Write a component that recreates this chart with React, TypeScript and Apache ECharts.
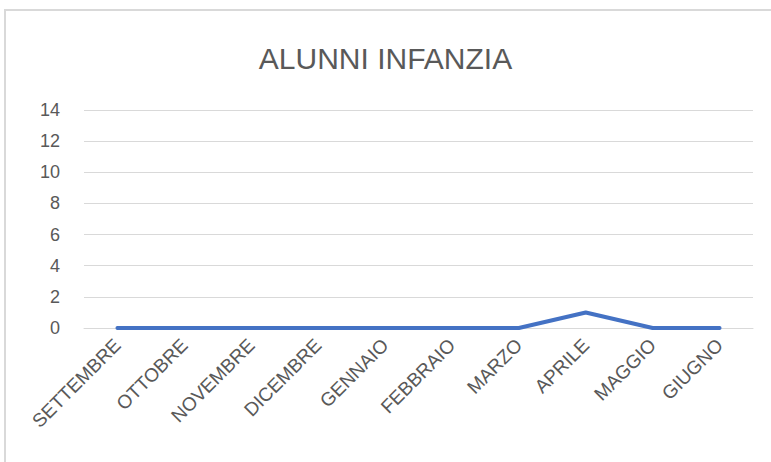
import React, { useEffect, useRef } from "react";
import * as echarts from "echarts";

const title = "ALUNNI INFANZIA";
const months = ["SETTEMBRE", "OTTOBRE", "NOVEMBRE", "DICEMBRE", "GENNAIO", "FEBBRAIO", "MARZO", "APRILE", "MAGGIO", "GIUGNO"];
const alunni = [0, 0, 0, 0, 0, 0, 0, 1, 0, 0];

export default function App() {
  const ref = useRef<HTMLDivElement>(null);
  useEffect(() => {
    if (!ref.current) return;
    const chart = echarts.init(ref.current, null, { renderer: "svg" });
    chart.setOption({
      animation: false,
      backgroundColor: "#ffffff",
      textStyle: { fontFamily: "Liberation Sans" },
      title: {
        text: title,
        left: "center",
        top: 38,
        textStyle: { fontSize: 30, fontWeight: "normal", color: "#595959", fontFamily: "Liberation Sans" },
      },
      graphic: [
        {
          type: "rect",
          shape: { x: 5, y: 10, width: 800, height: 500 },
          style: { fill: "none", stroke: "#d9d9d9", lineWidth: 2 },
          silent: true,
        },
      ],
      grid: { left: 84, right: 18, top: 110, bottom: 134, containLabel: false },
      xAxis: {
        type: "category",
        data: months,
        boundaryGap: true,
        axisLine: { show: true, lineStyle: { color: "#d9d9d9", width: 1 } },
        axisTick: { show: false },
        axisLabel: { rotate: 45, color: "#595959", fontSize: 19, margin: 14, interval: 0 },
      },
      yAxis: {
        type: "value",
        min: 0,
        max: 14,
        interval: 2,
        axisLine: { show: false },
        axisTick: { show: false },
        axisLabel: { color: "#595959", fontSize: 18, margin: 24 },
        splitLine: { lineStyle: { color: "#d9d9d9", width: 1 } },
      },
      series: [
        {
          type: "line",
          data: alunni,
          showSymbol: false,
          symbol: "none",
          lineStyle: { color: "#4472C4", width: 4, cap: "round", join: "round" },
        },
      ],
    });
    return () => chart.dispose();
  }, []);
  return <div ref={ref} style={{ position: "fixed", left: 0, top: 0, width: 771, height: 462 }} />;
}
